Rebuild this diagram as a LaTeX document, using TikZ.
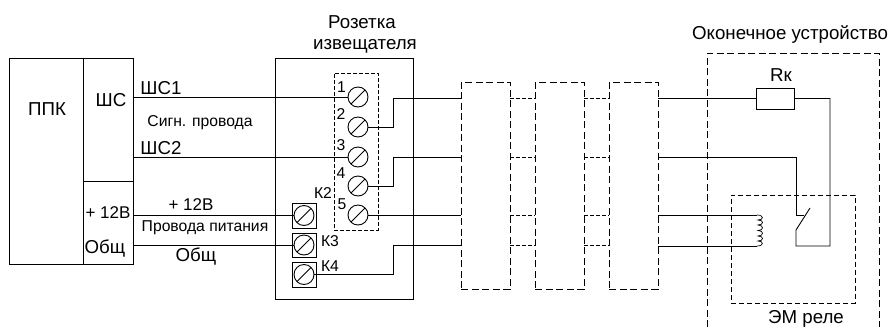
\documentclass[tikz,border=0pt]{standalone}
\usepackage{fontspec}
\setmainfont{Liberation Sans}
\usetikzlibrary{calc}
\tikzset{
  box/.style={draw,rectangle,inner sep=0pt,outer sep=0pt},
  dashbox/.style={box,dash pattern=on 7pt off 3.5pt},
  finebox/.style={box,dash pattern=on 4pt off 2pt},
  wire/.style={draw=black,line width=0.9pt},
  linkwire/.style={draw=black,line width=0.9pt,dash pattern=on 4pt off 2pt},
  screw/.style={draw,circle,minimum size=20pt,inner sep=0pt,outer sep=0pt,
    path picture={\draw[shorten <=3pt,shorten >=3pt] (path picture bounding box.south west) -- (path picture bounding box.north east);}},
  lab/.style={inner sep=0pt,font=\fontsize{18.7}{21}\selectfont},
  labm/.style={inner sep=0pt,font=\fontsize{17}{19}\selectfont},
  labs/.style={inner sep=0pt,font=\fontsize{15.7}{18}\selectfont},
}
\begin{document}
\begin{tikzpicture}[x=1pt,y=-1pt,line width=0.9pt]
\useasboundingbox (0,0) rectangle (893,327);
% PPK
\node[box,minimum width=74pt,minimum height=206pt] (ppk) at (46,161) {};
\node[box,minimum width=50pt,minimum height=123pt] (shc) at (108,119.5) {};
\node[box,minimum width=50pt,minimum height=83pt] (pwr) at (108,222.5) {};
\node[lab] (lppk) at (47,109) {ППК};
\node[lab] (lshc) at (111,100) {ШС};
\node[labm] (l12) at (108,213) {+ 12В};
\node[lab] (lob) at (105,248) {Общ};
% Socket
\node[box,minimum width=138pt,minimum height=241pt] (socket) at (344,178.5) {};
\node[finebox,minimum width=44pt,minimum height=157pt] (strip) at (356,151.5) {};
\node[lab] (stitle) at (362,22) {Розетка};
\node[lab] (stitle2) at (365,46) {извещателя};
\node[screw] (t1) at (358,97) {};
\node[screw] (t2) at (358,127) {};
\node[screw] (t3) at (358,157) {};
\node[screw] (t4) at (358,186) {};
\node[screw] (t5) at (358,215) {};
\node[labs] at (341.5,87) {1};
\node[labs] at (341,114) {2};
\node[labs] at (341,145) {3};
\node[labs] at (341,173) {4};
\node[labs] at (342,204) {5};
\node[box,minimum width=24pt,minimum height=25pt] (k2b) at (304,215.5) {};
\node[box,minimum width=24pt,minimum height=24pt] (k3b) at (304,245) {};
\node[box,minimum width=24pt,minimum height=25pt] (k4b) at (304,274.5) {};
\node[screw] (k2) at (304,215.5) {};
\node[screw] (k3) at (304,245) {};
\node[screw] (k4) at (304,274.5) {};
\node[labs] at (323,193) {К2};
\node[labs] at (330,241) {К3};
\node[labs] at (330,266) {К4};
% Blocks
\node[dashbox,minimum width=49pt,minimum height=207pt] (b1) at (485.5,185.5) {};
\node[dashbox,minimum width=49pt,minimum height=207pt] (b2) at (559.5,185.5) {};
\node[dashbox,minimum width=49pt,minimum height=207pt] (b3) at (633.5,185.5) {};
% End device
\coordinate (e1) at (707,327);
\coordinate (e2) at (707,53);
\coordinate (e3) at (879,53);
\coordinate (e4) at (879,327);
\draw[dash pattern=on 7pt off 3.5pt] (e1) -- (e2) -- (e3) -- (e4);
\node[dashbox,minimum width=124pt,minimum height=108pt,dash pattern=on 5pt off 3pt] (relay) at (793,249) {};
\node[box,minimum width=38pt,minimum height=21pt] (rk) at (775,98.5) {};
\node[lab] at (781,75) {Rк};
\node[lab] at (790,34) {Оконечное устройство};
\node[lab] at (806,319) {ЭМ реле};
% Labels on wires
\node[lab] at (161,88) {ШС1};
\node[lab] at (161,148) {ШС2};
\node[labs] at (200,123) {Сигн. провода};
\node[labm] at (191,205) {+ 12В};
\node[labs] at (205,228) {Провода питания};
\node[lab] at (196,256) {Общ};
% Wires PPK to socket
\draw[wire] (shc.east |- t1.west) -- (t1.west);
\draw[wire] (shc.east |- t3.west) -- (t3.west);
\draw[wire] (pwr.east |- k2.west) -- (k2.west);
\draw[wire] (pwr.east |- k3.west) -- (k3.west);
% Socket to block 1
\coordinate (a) at (393,98);
\coordinate (c) at (393,157);
\coordinate (d) at (393,245);
\draw[wire] (t2.east) -| (a) -- (b1.west |- a);
\draw[wire] (t4.east) -| (c) -- (b1.west |- c);
\draw[wire] (t5.east) -- (b1.west |- t5);
\draw[wire] (k4.east) -| (d) -- (b1.west |- d);
% Links
\foreach \yy in {98,157,215,245}{
  \draw[linkwire] (b1.east |- 0,\yy) -- (b2.west |- 0,\yy);
  \draw[linkwire] (b2.east |- 0,\yy) -- (b3.west |- 0,\yy);
}
% End wires
\coordinate (sw1) at (796,157);
\coordinate (sw2) at (796,215);
\coordinate (sw3) at (804,215);
\coordinate (sw4) at (796,230);
\coordinate (sw5) at (810,208);
\coordinate (sw6) at (796,246);
\coordinate (rr) at (830,98.5);
\coordinate (rb) at (830,246);
\coordinate (c1) at (757,215);
\coordinate (c2) at (757,246);
\draw[wire] (b3.east |- rk.west) -- (rk.west);
\draw[wire] (rk.east) -- (rr) -- (rb) -- (sw6) -- (sw4) -- (sw5);
\draw[wire] (b3.east |- sw1) -- (sw1) -- (sw2) -- (sw3);
\draw[wire] (b3.east |- c1) -- (c1);
\draw[wire] (b3.east |- c2) -- (c2);
\draw[line width=0.7pt] (c1) .. controls (764,215) and (764,220) .. (758,220)
  .. controls (764,220) and (764,225) .. (758,225)
  .. controls (764,225) and (764,230.5) .. (758,230.5)
  .. controls (764,230.5) and (764,236) .. (758,236)
  .. controls (764,236) and (764,241) .. (758,241)
  .. controls (764,241) and (764,246) .. (c2);
\end{tikzpicture}
\end{document}
